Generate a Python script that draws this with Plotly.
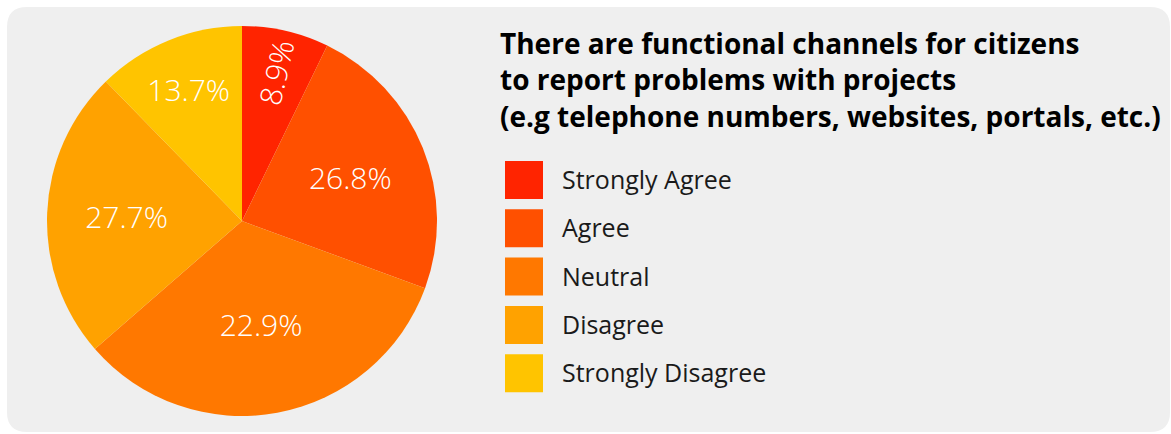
import plotly.graph_objects as go

W, H = 1171, 434

categories = ["Strongly Agree", "Agree", "Neutral", "Disagree", "Strongly Disagree"]
# slice sizes as drawn in the picture
slice_values = [7.2, 23.4, 33.0, 24.1, 12.3]
# percentages printed on the slices
slice_labels = ["8.9%", "26.8%", "22.9%", "27.7%", "13.7%"]
# which labels are written along the radius
radial_label = [True, False, False, False, False]
colors = ["#ff2400", "#ff5000", "#ff7800", "#ffa200", "#ffc400"]
title_text = ("There are functional channels for citizens<br>"
              "to report problems with projects<br>"
              "(e.g telephone numbers, websites, portals, etc.)")

FONT = "Open Sans"
fig = go.Figure()

cx, cy, R = 242, 221, 195
dom = dict(x=[(cx - R) / W, (cx + R) / W], y=[(H - cy - R) / H, (H - cy + R) / H])

for orient, keep in (("horizontal", False), ("radial", True)):
    fig.add_trace(go.Pie(
        labels=categories,
        values=slice_values,
        text=[t if r == keep else "" for t, r in zip(slice_labels, radial_label)],
        textinfo="text",
        textposition="inside",
        insidetextorientation=orient,
        sort=False,
        direction="clockwise",
        rotation=0,
        marker=dict(colors=colors if not keep else ["rgba(0,0,0,0)"] * len(colors),
                    line=dict(width=0)),
        textfont=dict(family=FONT, size=30, color="white", weight=300),
        domain=dom,
        showlegend=False,
        hoverinfo="label+text" if not keep else "skip",
    ))

# rounded grey card
x0, y0, x1, y1 = 7 / W, 1 - 7 / H, 1 - 1 / W, 1 - 432 / H
r = 20
rx, ry = r / W, r / H
path = (f"M{x0+rx},{y0} L{x1-rx},{y0} Q{x1},{y0} {x1},{y0-ry} "
        f"L{x1},{y1+ry} Q{x1},{y1} {x1-rx},{y1} L{x0+rx},{y1} Q{x0},{y1} {x0},{y1+ry} "
        f"L{x0},{y0-ry} Q{x0},{y0} {x0+rx},{y0} Z")
shapes = [dict(type="path", path=path, xref="paper", yref="paper",
               fillcolor="#efefef", line=dict(width=0), layer="below")]

annotations = [dict(text="<b>" + title_text + "</b>", x=498 / W, y=1 - 22 / H,
                    xref="paper", yref="paper", xanchor="left", yanchor="top",
                    align="left", showarrow=False,
                    font=dict(family=FONT, size=28, color="#000000"))]

# legend drawn as large squares
sq = 38
top0 = 161
step = 48.3
for i, (cat, col) in enumerate(zip(categories, colors)):
    t = top0 + i * step
    shapes.append(dict(type="rect", xref="paper", yref="paper",
                       x0=505 / W, x1=(505 + sq) / W, y0=1 - (t + sq) / H, y1=1 - t / H,
                       fillcolor=col, line=dict(width=0)))
    annotations.append(dict(text=cat, x=560 / W, y=1 - (t + sq / 2 - 1) / H,
                            xref="paper", yref="paper", xanchor="left", yanchor="middle",
                            showarrow=False,
                            font=dict(family=FONT, size=25, color="#1a1a1a")))

fig.update_layout(
    width=W, height=H,
    margin=dict(l=0, r=0, t=0, b=0),
    paper_bgcolor="white",
    plot_bgcolor="white",
    shapes=shapes,
    annotations=annotations,
    uniformtext=dict(minsize=30, mode="show"),
)

fig.write_html("out.html")
